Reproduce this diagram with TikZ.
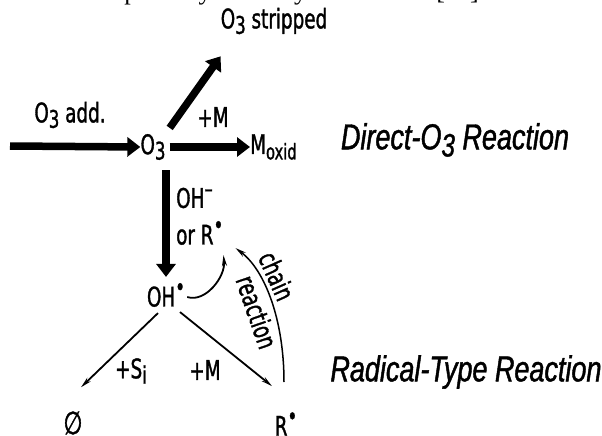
\documentclass[tikz,border=0pt]{standalone}
\usepackage{fontspec}
\usepackage{graphicx}
\usetikzlibrary{arrows.meta}
\newfontfamily\labfont[FakeStretch=0.68,FakeBold=1.2]{DejaVu Sans}
\newfontfamily\reacfont[FakeStretch=0.75,FakeBold=1.2]{Liberation Sans}
\newfontfamily\serifx{Liberation Serif}
\newcommand\sbx[1]{\raisebox{-0.2em}{\scalebox{0.9}{#1}}}
\newcommand\spx[1]{\raisebox{0.4em}{\scalebox{0.9}{#1}}}
\tikzset{
  lab/.style={inner sep=0pt, font=\labfont\fontsize{27}{27}\selectfont},
  reac/.style={inner sep=0pt, font=\reacfont\itshape\fontsize{36}{36}\selectfont},
  bigarrow/.style={line width=7.5pt, -{Triangle[length=13pt,width=19pt]}},
  thinarrow/.style={line width=1.8pt, -{Stealth[length=11pt,width=5pt]}},
  arcarrow/.style={line width=1.5pt, -{Stealth[length=11pt,width=5pt]}},
}
\begin{document}
\begin{tikzpicture}[x=1pt,y=-1pt]
\useasboundingbox (0,0) rectangle (602,436);
\begin{scope}
\clip (0,0) rectangle (602,436);
\node[anchor=base west, inner sep=0pt, font=\serifx\fontsize{26}{26}\selectfont] (top) at (0,0) {water takes place by two ways as follows [11].};
\end{scope}
% labels
\node[lab] (strip) at (274,21) {O\sbx{3} stripped};
\node[lab] (add) at (70,115) {O\sbx{3} add.};
\node[lab] (o3) at (153,147) {O\sbx{3}};
\node[lab, anchor=west] (mox) at (250,147) {M\sbx{\fontsize{24}{24}\selectfont oxid}};
\node[lab] (pm1) at (213,117) {+M};
\node[lab, anchor=west] (ohm) at (176,198) {OH\spx{–}};
\node[lab, anchor=west] (orr) at (176,233) {or R\spx{•}};
\node[lab] (oh) at (166,295) {OH\spx{•}};
\node[lab, font=\labfont\fontsize{32}{32}\selectfont] (null) at (73,423) {∅};
\node[lab] (r) at (286,424) {R\spx{•}};
\node[lab] (psi) at (131,371) {+S\sbx{i}};
\node[lab] (pm2) at (205,370) {+M};
\node[lab, rotate=-66] (ch) at (277,276) {chain};
\node[lab, rotate=-71] (re) at (257,312) {reaction};
\node[reac] (dir) at (455,140) {Direct-O\sbx{3} Reaction};
\node[reac] (rad) at (466,372) {Radical-Type Reaction};
% connectors
\coordinate (s0) at (10,146);
\draw[bigarrow] (s0) -- (o3.west);
\draw[bigarrow] ([xshift=4pt]o3.east) -- (mox.west);
\draw[bigarrow] ([shift={(4,-6)}]o3.north east) -- ([shift={(0,22)}]strip.south west);
\draw[bigarrow] ([shift={(0,10)}]o3.south -| oh) -- ([shift={(0,-6)}]oh.north -| oh);
\draw[thinarrow] ([shift={(-8,6)}]oh.south) -- ([shift={(8,-24)}]null.north);
\draw[thinarrow] ([shift={(14,5)}]oh.south) -- ([shift={(-14,-26)}]r.north);
\draw[thinarrow] ([shift={(2,2)}]oh.east) .. controls +(18,6) and +(2,22) .. ([shift={(0,10)}]orr.south east);
\coordinate (arcstart) at (284,382);
\draw[arcarrow] (arcstart) .. controls (284,320) and (265,270) .. ([shift={(12,3)}]orr.south east);
\end{tikzpicture}
\end{document}
